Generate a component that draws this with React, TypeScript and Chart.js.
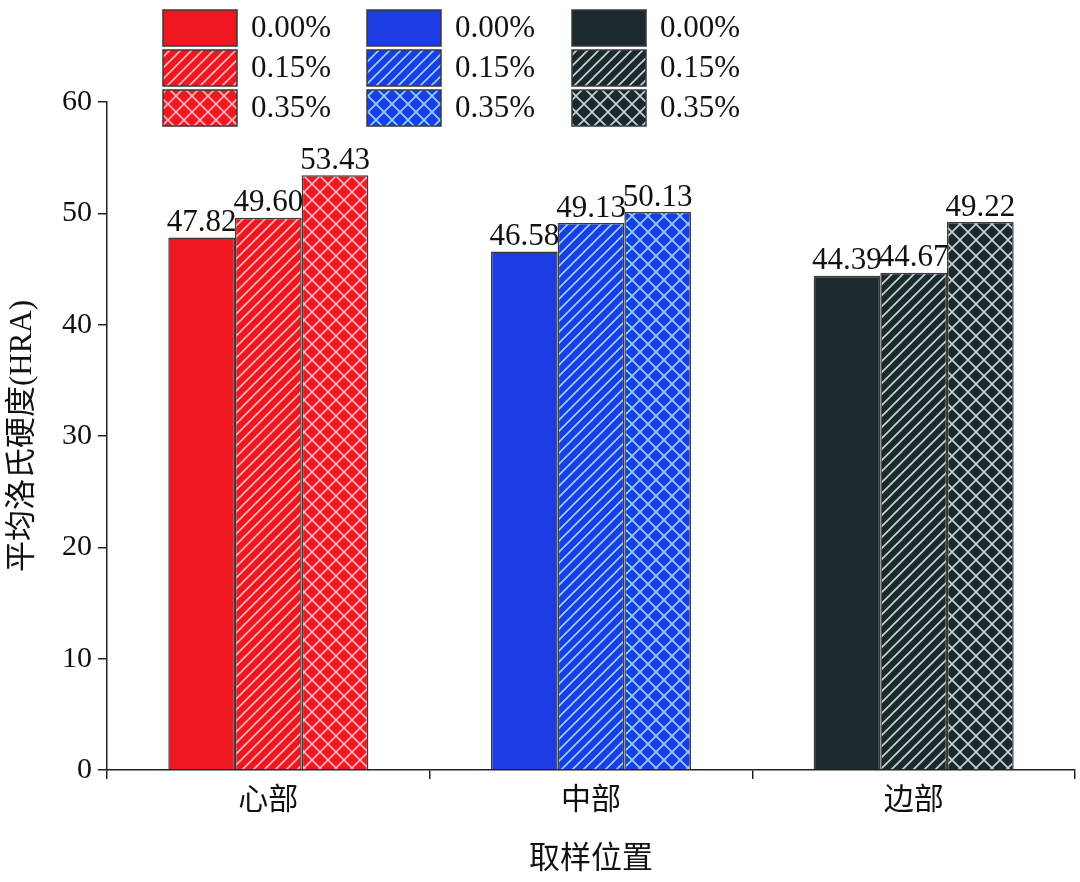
import React, { useEffect, useRef } from "react";
import { Chart, registerables } from "chart.js";
Chart.register(...registerables);

const categories = ["心部", "中部", "边部"];
const seriesLabels = ["0.00%", "0.15%", "0.35%"];
const values0 = [47.82, 46.58, 44.39];
const values15 = [49.6, 49.13, 44.67];
const values35 = [53.43, 50.13, 49.22];
const groupColors = ["#f01820", "#1e3ce6", "#1c2a2e"];
const hatchColors = ["rgba(255,200,210,0.9)", "rgba(150,235,255,0.9)", "rgba(220,235,235,0.9)"];
const yTicks = [0, 10, 20, 30, 40, 50, 60];

function makePattern(color: string, hatch: string, kind: number): CanvasPattern | string {
  if (kind === 0) return color;
  const s = kind === 1 ? 11 : 16;
  const c = document.createElement("canvas");
  c.width = s; c.height = s;
  const g = c.getContext("2d")!;
  g.fillStyle = color; g.fillRect(0, 0, s, s);
  g.strokeStyle = hatch;
  g.lineWidth = 1.6;
  g.beginPath();
  g.moveTo(-1, s + 1); g.lineTo(s + 1, -1);
  g.moveTo(-1, 1); g.lineTo(1, -1);
  g.moveTo(s - 1, s + 1); g.lineTo(s + 1, s - 1);
  if (kind === 2) {
    g.moveTo(-1, -1); g.lineTo(s + 1, s + 1);
    g.moveTo(s - 1, -1); g.lineTo(s + 1, 1);
    g.moveTo(-1, s - 1); g.lineTo(1, s + 1);
  }
  g.stroke();
  return g.createPattern(c, "repeat")!;
}

const FONT = "'Liberation Serif', 'Noto Sans CJK SC', serif";

export default function App() {
  const ref = useRef<HTMLCanvasElement>(null);
  useEffect(() => {
    document.body.style.margin = "0";
    const all = [values0, values15, values35];
    const datasets = all.map((vals, k) => ({
      label: seriesLabels[k],
      data: vals,
      backgroundColor: groupColors.map((c, i) => makePattern(c, hatchColors[i], k)),
      borderColor: "#3a3a3a",
      borderWidth: 1.5,
      categoryPercentage: 0.62,
      barPercentage: 1,
    }));
    const labelPlugin = {
      id: "labels",
      afterDatasetsDraw(chart: any) {
        const ctx = chart.ctx;
        ctx.save();
        ctx.font = `31px ${FONT}`;
        ctx.fillStyle = "#111";
        ctx.textAlign = "center";
        ctx.textBaseline = "bottom";
        chart.data.datasets.forEach((ds: any, i: number) => {
          chart.getDatasetMeta(i).data.forEach((bar: any, j: number) => {
            ctx.fillText(ds.data[j].toFixed(2), bar.x, bar.y + 1);
          });
        });
        const colX = [163, 367, 572];
        const rowY = [10, 50, 90];
        ctx.textAlign = "left";
        ctx.textBaseline = "middle";
        for (let c = 0; c < 3; c++) {
          for (let r = 0; r < 3; r++) {
            const x = colX[c], y = rowY[r];
            ctx.fillStyle = makePattern(groupColors[c], hatchColors[c], r);
            ctx.fillRect(x, y, 74, 36);
            ctx.strokeStyle = "#3a3a3a";
            ctx.lineWidth = 1.5;
            ctx.strokeRect(x, y, 74, 36);
            ctx.fillStyle = "#111";
            ctx.fillText(seriesLabels[r], x + 88, y + 19);
          }
        }
        ctx.restore();
      },
    };
    const chart = new Chart(ref.current!, {
      type: "bar",
      data: { labels: categories, datasets },
      options: {
        animation: false,
        responsive: false,
        layout: { padding: { top: 102, right: 5, left: 0, bottom: 0 } },
        plugins: { legend: { display: false }, tooltip: { enabled: false } },
        scales: {
          x: {
            afterFit: (s: any) => { s.height = 112; },
            grid: { display: true, offset: true, drawOnChartArea: false, tickLength: 9, color: "#222", lineWidth: 1.5 },
            border: { color: "#222", width: 1.5 },
            ticks: { font: { family: FONT, size: 30 }, color: "#111", padding: 4 },
            title: { display: true, text: "取样位置", font: { family: FONT, size: 31 }, color: "#111", padding: { top: 0 } },
          },
          y: {
            min: 0, max: 60,
            afterFit: (s: any) => { s.width = 107; },
            afterBuildTicks: (s: any) => { s.ticks = yTicks.map((v) => ({ value: v })); },
            grid: { display: true, drawOnChartArea: false, tickLength: 9, color: "#222", lineWidth: 1.5 },
            border: { color: "#222", width: 1.5 },
            ticks: { font: { family: FONT, size: 30 }, color: "#111", padding: 6 },
            title: { display: true, text: "平均洛氏硬度(HRA)", font: { family: FONT, size: 31 }, color: "#111", padding: { bottom: 0 } },
          },
        },
      },
      plugins: [labelPlugin],
    });
    return () => chart.destroy();
  }, []);
  return <canvas ref={ref} width={1080} height={882} style={{ display: "block" }} />;
}
